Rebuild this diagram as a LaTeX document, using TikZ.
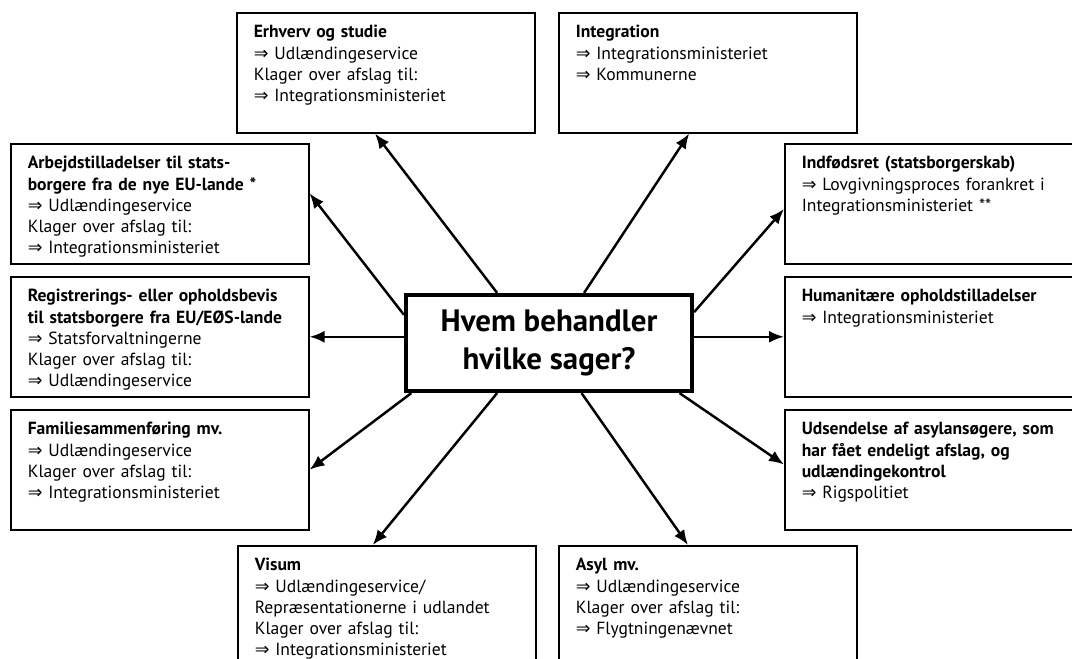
\documentclass[tikz,border=0pt]{standalone}
\usepackage{fontspec}
\setmainfont{PT Sans}
\newfontfamily\arrowfont{DejaVu Sans}
\usetikzlibrary{arrows.meta}
\tikzset{>={Latex[width=2.4mm,length=3mm]}}
\tikzset{
  infobox/.style={draw, line width=0.9pt, anchor=north west, align=left,
    text width=5.28cm, inner xsep=0.34cm, inner ysep=0.2cm,
    text height=0.3cm, text depth=1.7cm, font=\fontsize{10}{12.1}\selectfont},
  mainbox/.style={draw, line width=2.4pt, minimum width=5.72cm, minimum height=1.92cm,
    align=center, font=\fontsize{17.6}{21.5}\selectfont\bfseries},
  link/.style={->, line width=1.4pt}
}
\newcommand{\ra}{{\arrowfont ⇒}}

\begin{document}
\begin{tikzpicture}[x=0.02cm, y=-0.02cm]

  \useasboundingbox (0,0) rectangle (1072,659);
  \clip (0,0) rectangle (1072,659);

  \node[infobox] (erh) at (236,12) {\textbf{Erhverv og studie}\\
    \ra{} Udlændingeservice\\ Klager over afslag til:\\ \ra{} Integrationsministeriet};
  \node[infobox] (int) at (558,12) {\textbf{Integration}\\
    \ra{} Integrationsministeriet\\ \ra{} Kommunerne};

  \node[infobox] (arb) at (10,143) {\textbf{Arbejdstilladelser til stats-}\\
    \textbf{borgere fra de nye EU-lande *}\\ \ra{} Udlændingeservice\\
    Klager over afslag til:\\ \ra{} Integrationsministeriet};
  \node[infobox] (ind) at (784,143) {\textbf{Indfødsret (statsborgerskab)}\\
    \ra{} Lovgivningsproces forankret i\\ Integrationsministeriet **};

  \node[infobox] (reg) at (10,276) {\textbf{Registrerings- eller opholdsbevis}\\
    \textbf{til statsborgere fra EU/EØS-lande}\\ \ra{} Statsforvaltningerne\\
    Klager over afslag til:\\ \ra{} Udlændingeservice};
  \node[infobox] (hum) at (784,276) {\textbf{Humanitære opholdstilladelser}\\
    \ra{} Integrationsministeriet};

  \node[infobox] (fam) at (10,409) {\textbf{Familiesammenføring mv.}\\
    \ra{} Udlændingeservice\\ Klager over afslag til:\\ \ra{} Integrationsministeriet};
  \node[infobox] (uds) at (784,409) {\textbf{Udsendelse af asylansøgere, som}\\
    \textbf{har fået endeligt afslag, og}\\ \textbf{udlændingekontrol}\\
    \ra{} Rigspolitiet};

  \node[infobox] (vis) at (237,545) {\textbf{Visum}\\ \ra{} Udlændingeservice/\\
    Repræsentationerne i udlandet\\ Klager over afslag til:\\
    \ra{} Integrationsministeriet};
  \node[infobox] (asy) at (558,545) {\textbf{Asyl mv.}\\ \ra{} Udlændingeservice\\
    Klager over afslag til:\\ \ra{} Flygtningenævnet};

  \node[mainbox] (cen) at (549,343) {Hvem behandler\\hvilke sager?};

  \draw[link] (cen.136) -- (erh.260);
  \draw[link] (cen.55) -- (int.253);
  \draw[link] (cen.169) -- (arb.4);
  \draw[link] (cen.12) -- (ind.182);
  \draw[link] (reg.east -| cen.west) -- (reg.east);
  \draw[link] (hum.west -| cen.east) -- (hum.west);
  \draw[link] (cen.200) -- (fam.east);
  \draw[link] (cen.339) -- (uds.178);
  \draw[link] (cen.224) -- (vis.103);
  \draw[link] (cen.303) -- (asy.108);

\end{tikzpicture}
\end{document}
